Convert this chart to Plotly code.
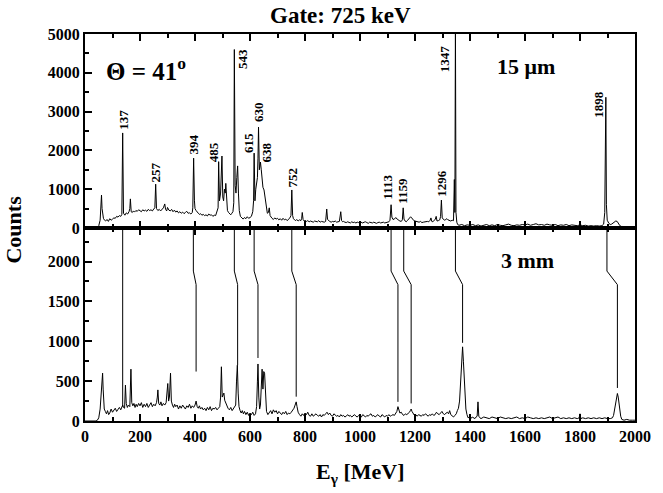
import plotly.graph_objects as go

# ---------------- data ----------------
# 15 um target spectrum (top panel): (E_gamma, counts)
top_spectrum = [
    (0, 0), (40, 0), (45, 20), (50, 60), (55, 200), (58, 500), (60, 850), (62, 500), (64, 300), (67, 250),
    (70, 210), (75, 180), (80, 220), (85, 170), (90, 240), (95, 200), (100, 230), (105, 260), (110, 250),
    (115, 300), (120, 280), (125, 320), (130, 300), (134, 350), (137, 2450), (140, 380), (145, 330),
    (150, 390), (155, 360), (160, 420), (163, 500), (165, 750), (168, 420), (172, 400), (176, 440),
    (180, 410), (185, 450), (190, 430), (195, 470), (200, 440), (205, 420), (210, 470), (215, 440),
    (220, 460), (225, 430), (230, 480), (235, 450), (240, 470), (245, 440), (250, 490), (254, 520),
    (257, 1130), (260, 500), (265, 450), (270, 480), (275, 440), (280, 470), (285, 520), (290, 620),
    (293, 480), (297, 440), (300, 530), (305, 460), (310, 440), (315, 480), (320, 420), (325, 460),
    (330, 410), (335, 440), (340, 390), (345, 420), (350, 380), (355, 410), (360, 370), (365, 400),
    (370, 430), (375, 380), (380, 390), (385, 360), (390, 400), (392, 520), (395, 1800), (398, 700),
    (400, 500), (404, 450), (408, 400), (412, 380), (416, 350), (420, 370), (425, 330), (430, 350),
    (435, 320), (440, 340), (445, 310), (450, 360), (455, 330), (460, 340), (465, 300), (470, 330),
    (475, 320), (480, 420), (484, 520), (486, 1710), (489, 700), (493, 900), (496, 1300), (498, 1855),
    (501, 800), (504, 700), (507, 1000), (510, 900), (512, 1150), (515, 600), (518, 450), (522, 400),
    (526, 360), (530, 340), (534, 380), (538, 420), (541, 650), (543, 4600), (546, 1100), (549, 900),
    (552, 1300), (555, 1600), (558, 900), (561, 450), (565, 300), (570, 260), (575, 230), (580, 270),
    (585, 240), (590, 290), (595, 250), (600, 270), (605, 300), (610, 420), (613, 700), (615, 1930),
    (618, 700), (621, 1000), (624, 1200), (627, 1300), (629, 1800), (631, 2600), (634, 1500), (636, 1600),
    (638, 1700), (641, 1500), (644, 1200), (647, 1050), (651, 980), (654, 800), (657, 600), (660, 420),
    (663, 380), (667, 400), (670, 520), (673, 320), (677, 270), (680, 250), (685, 220), (690, 260),
    (695, 230), (700, 250), (705, 210), (710, 240), (715, 200), (720, 250), (725, 210), (730, 230),
    (735, 190), (740, 220), (745, 260), (749, 320), (752, 980), (755, 320), (758, 240), (762, 210),
    (766, 190), (770, 220), (775, 180), (780, 210), (785, 190), (788, 250), (790, 400), (793, 220),
    (797, 180), (800, 200), (805, 170), (810, 190), (815, 160), (820, 180), (825, 170), (830, 150),
    (835, 180), (840, 170), (845, 160), (850, 190), (855, 150), (860, 170), (865, 160), (870, 150),
    (875, 170), (879, 490), (882, 220), (886, 180), (890, 170), (895, 150), (900, 170), (905, 160),
    (910, 180), (915, 150), (920, 160), (925, 170), (930, 420), (933, 190), (937, 160), (940, 170),
    (945, 150), (950, 140), (955, 160), (960, 150), (965, 130), (970, 160), (975, 140), (980, 150),
    (985, 130), (990, 150), (995, 140), (1000, 160), (1005, 150), (1010, 130), (1015, 150), (1020, 160),
    (1025, 140), (1030, 120), (1035, 150), (1040, 140), (1045, 130), (1050, 150), (1055, 140),
    (1060, 120), (1065, 140), (1070, 150), (1075, 130), (1080, 140), (1085, 150), (1090, 130),
    (1095, 140), (1100, 150), (1105, 160), (1109, 200), (1113, 600), (1116, 280), (1120, 220),
    (1125, 230), (1130, 270), (1135, 230), (1140, 200), (1145, 180), (1150, 170), (1154, 210),
    (1157, 520), (1160, 230), (1164, 180), (1168, 160), (1172, 190), (1176, 230), (1180, 270),
    (1184, 290), (1188, 260), (1192, 220), (1196, 190), (1200, 180), (1205, 170), (1210, 160),
    (1215, 150), (1220, 170), (1225, 140), (1230, 150), (1235, 160), (1240, 150), (1245, 170),
    (1250, 160), (1255, 200), (1258, 260), (1261, 170), (1265, 160), (1270, 200), (1274, 230),
    (1277, 300), (1280, 180), (1285, 190), (1290, 210), (1293, 300), (1296, 720), (1299, 260),
    (1303, 220), (1307, 200), (1312, 220), (1316, 240), (1320, 210), (1325, 190), (1330, 180),
    (1335, 200), (1340, 190), (1343, 1250), (1345, 400), (1347, 5300), (1349, 400), (1352, 150),
    (1355, 90), (1360, 70), (1370, 90), (1380, 60), (1390, 80), (1400, 70), (1410, 90), (1420, 60),
    (1430, 80), (1440, 50), (1450, 70), (1460, 90), (1470, 60), (1480, 80), (1490, 60), (1500, 90),
    (1510, 70), (1520, 60), (1530, 80), (1540, 100), (1550, 70), (1560, 60), (1570, 80), (1580, 70),
    (1590, 90), (1600, 80), (1610, 100), (1620, 70), (1630, 90), (1640, 110), (1650, 80), (1660, 90),
    (1670, 70), (1680, 100), (1690, 80), (1700, 70), (1710, 90), (1720, 60), (1730, 80), (1740, 70),
    (1750, 90), (1760, 60), (1770, 80), (1780, 70), (1790, 60), (1800, 80), (1810, 60), (1820, 70),
    (1830, 50), (1840, 60), (1850, 50), (1860, 60), (1870, 50), (1880, 60), (1886, 100), (1890, 400),
    (1892, 1300), (1894, 3370), (1896, 600), (1899, 200), (1905, 120), (1910, 90), (1915, 100),
    (1920, 120), (1925, 160), (1930, 180), (1935, 170), (1940, 110), (1945, 60), (1950, 40), (1960, 40),
    (1970, 30), (1980, 40), (1990, 30), (2000, 30),
]

# 3 mm target spectrum (bottom panel): (E_gamma, counts)
bot_spectrum = [
    (0, 0), (40, 0), (45, 10), (50, 40), (55, 150), (58, 300), (61, 450), (64, 600), (66, 400), (68, 300),
    (70, 150), (74, 120), (78, 90), (82, 130), (86, 80), (90, 100), (95, 150), (100, 110), (105, 140),
    (110, 160), (115, 120), (120, 150), (125, 170), (130, 140), (134, 180), (137, 200), (140, 170),
    (144, 160), (147, 450), (150, 220), (154, 170), (158, 200), (163, 180), (167, 650), (170, 230),
    (174, 190), (178, 220), (182, 170), (186, 210), (190, 180), (195, 220), (200, 190), (205, 230),
    (210, 170), (215, 210), (220, 180), (225, 220), (230, 170), (235, 200), (240, 230), (245, 180),
    (250, 210), (255, 190), (260, 230), (263, 300), (265, 390), (268, 220), (272, 200), (276, 240),
    (280, 190), (285, 220), (290, 200), (295, 230), (298, 350), (301, 470), (304, 250), (307, 300),
    (311, 600), (314, 250), (318, 200), (322, 170), (326, 210), (330, 180), (335, 200), (340, 150),
    (345, 190), (350, 160), (355, 200), (360, 180), (365, 150), (370, 190), (375, 170), (380, 210),
    (385, 160), (390, 190), (395, 170), (400, 200), (404, 250), (408, 180), (412, 160), (416, 190),
    (420, 150), (425, 170), (430, 140), (435, 160), (440, 130), (445, 170), (450, 140), (455, 180),
    (460, 130), (465, 160), (470, 150), (475, 170), (480, 140), (485, 160), (490, 180), (493, 300),
    (496, 680), (499, 300), (502, 330), (505, 350), (508, 260), (512, 220), (516, 180), (520, 160),
    (525, 140), (530, 170), (535, 130), (540, 160), (545, 190), (548, 200), (551, 500), (554, 700),
    (557, 350), (560, 180), (564, 130), (568, 100), (572, 130), (576, 90), (580, 120), (585, 80),
    (590, 110), (595, 70), (600, 100), (605, 80), (610, 110), (615, 70), (620, 90), (624, 180),
    (627, 500), (629, 715), (632, 300), (635, 150), (638, 200), (641, 500), (644, 650), (647, 400),
    (650, 620), (653, 600), (656, 300), (660, 120), (665, 80), (670, 110), (675, 130), (680, 90),
    (685, 140), (690, 110), (695, 130), (700, 90), (705, 120), (710, 100), (715, 80), (720, 110),
    (725, 90), (730, 120), (735, 80), (740, 100), (745, 90), (750, 110), (755, 130), (760, 160),
    (764, 200), (768, 240), (771, 180), (775, 110), (780, 80), (785, 60), (790, 90), (795, 70),
    (800, 100), (805, 80), (810, 110), (815, 70), (820, 60), (825, 90), (830, 60), (835, 80), (840, 90),
    (845, 70), (850, 60), (855, 80), (860, 50), (865, 80), (870, 70), (875, 90), (880, 110), (885, 80),
    (890, 100), (895, 70), (900, 60), (905, 90), (910, 80), (915, 60), (920, 70), (925, 50), (930, 80),
    (935, 60), (940, 70), (945, 50), (950, 60), (955, 80), (960, 60), (965, 70), (970, 50), (975, 60),
    (980, 80), (985, 60), (990, 50), (995, 70), (1000, 60), (1005, 50), (1010, 80), (1015, 60),
    (1020, 50), (1025, 70), (1030, 60), (1035, 80), (1040, 90), (1045, 60), (1050, 70), (1055, 50),
    (1060, 60), (1065, 80), (1070, 60), (1075, 50), (1080, 80), (1085, 60), (1090, 50), (1095, 70),
    (1100, 60), (1105, 80), (1110, 60), (1115, 70), (1120, 80), (1125, 70), (1130, 90), (1134, 120),
    (1138, 180), (1141, 140), (1145, 100), (1150, 110), (1155, 80), (1160, 70), (1165, 90), (1170, 80),
    (1175, 90), (1180, 110), (1183, 130), (1186, 150), (1189, 120), (1193, 90), (1198, 70), (1203, 80),
    (1208, 60), (1213, 80), (1218, 70), (1223, 60), (1228, 80), (1233, 70), (1238, 90), (1243, 80),
    (1248, 60), (1253, 80), (1258, 70), (1263, 90), (1268, 70), (1273, 80), (1278, 110), (1283, 90),
    (1288, 80), (1293, 100), (1298, 120), (1303, 90), (1308, 80), (1313, 100), (1318, 110), (1322, 90),
    (1326, 130), (1330, 80), (1335, 60), (1340, 50), (1345, 70), (1350, 90), (1354, 130), (1358, 160),
    (1362, 250), (1366, 500), (1370, 800), (1373, 930), (1376, 750), (1379, 500), (1382, 300),
    (1385, 150), (1389, 80), (1393, 40), (1398, 50), (1403, 30), (1408, 50), (1413, 40), (1418, 30),
    (1422, 50), (1426, 60), (1429, 240), (1432, 60), (1436, 40), (1440, 30), (1450, 50), (1460, 40),
    (1470, 30), (1480, 50), (1490, 40), (1500, 30), (1510, 50), (1520, 40), (1530, 30), (1540, 40),
    (1550, 30), (1560, 40), (1570, 50), (1580, 30), (1590, 40), (1600, 30), (1610, 50), (1620, 40),
    (1630, 30), (1640, 40), (1650, 30), (1660, 40), (1670, 30), (1680, 40), (1690, 50), (1700, 30),
    (1710, 40), (1720, 50), (1730, 30), (1740, 40), (1750, 30), (1760, 40), (1770, 30), (1780, 40),
    (1790, 30), (1797, 40), (1800, 90), (1803, 30), (1810, 40), (1820, 30), (1830, 40), (1840, 30),
    (1850, 40), (1860, 30), (1870, 40), (1880, 30), (1890, 40), (1900, 30), (1910, 30), (1918, 40),
    (1922, 70), (1926, 150), (1930, 250), (1933, 320), (1936, 345), (1939, 300), (1942, 220),
    (1945, 130), (1948, 60), (1952, 20), (1960, 10), (1970, 20), (1980, 10), (1990, 10), (2000, 10),
]

# peak labels in the top panel
label_text = ["137", "257", "394", "485", "543", "615", "630", "638", "752", "1113", "1159", "1296", "1347", "1898"]
label_x = [137, 258, 395, 465, 575, 594, 631, 659, 756, 1099, 1155, 1296, 1308, 1867]
label_y = [2780, 1430, 2140, 1950, 4360, 2200, 2980, 1950, 1300, 1050, 950, 1150, 4370, 3190]

# guide lines connecting unshifted (top) and shifted (bottom) peaks
guide_top_e = [137, 394, 543, 615, 752, 1113, 1159, 1347, 1898]
guide_bot_e = [137, 404, 555, 629, 768, 1138, 1186, 1373, 1936]
guide_end_counts = [180, 620, 700, 790, 305, 240, 220, 980, 414]
guide_start = 2430
kink_upper = 1880
kink_lower = 1710

x_ticks = list(range(0, 2001, 200))

top_energy = [p[0] for p in top_spectrum]
top_counts = [p[1] for p in top_spectrum]
bot_energy = [p[0] for p in bot_spectrum]
bot_counts = [p[1] for p in bot_spectrum]

# ---------------- figure ----------------
FONT = "Liberation Serif"
fig = go.Figure()

fig.add_trace(go.Scatter(x=top_energy, y=top_counts, mode="lines",
                         line=dict(color="black", width=1), xaxis="x", yaxis="y",
                         showlegend=False, hoverinfo="skip"))
fig.add_trace(go.Scatter(x=bot_energy, y=bot_counts, mode="lines",
                         line=dict(color="black", width=1), xaxis="x2", yaxis="y2",
                         showlegend=False, hoverinfo="skip"))

for et, eb, ee in zip(guide_top_e, guide_bot_e, guide_end_counts):
    if et == eb:
        gx = [et, eb]
        gy = [guide_start, ee]
    else:
        gx = [et, et, eb, eb]
        gy = [guide_start, kink_upper, kink_lower, ee]
    fig.add_trace(go.Scatter(x=gx, y=gy, mode="lines", line=dict(color="black", width=1),
                             xaxis="x2", yaxis="y2", showlegend=False, hoverinfo="skip"))

for t, lx, ly in zip(label_text, label_x, label_y):
    fig.add_annotation(x=lx, y=ly, xref="x", yref="y", text=t, textangle=-90, showarrow=False,
                       xanchor="center", yanchor="middle",
                       font=dict(family=FONT, size=13, color="black", weight="bold"))

split = 0.4987
axis_common = dict(showline=True, linecolor="black", linewidth=2, mirror=True, showgrid=False,
                   zeroline=False, color="black",
                   tickfont=dict(family=FONT, size=16, color="black", weight="bold"))
tick_common = dict(ticks="inside", ticklen=7, tickwidth=1.5, tickcolor="black")

fig.update_layout(
    width=663, height=493,
    margin=dict(l=85, r=18, t=34, b=72),
    paper_bgcolor="white", plot_bgcolor="white",
    xaxis=dict(domain=[0, 1], anchor="y", range=[0, 2000], tickvals=x_ticks, showticklabels=False,
               minor=dict(dtick=100, ticks="inside", ticklen=4, tickcolor="black", tickwidth=1.5),
               **tick_common, **{**axis_common, "mirror": "ticks"}),
    yaxis=dict(domain=[split, 1], anchor="x", range=[0, 5000], tickvals=[0, 1000, 2000, 3000, 4000, 5000],
               minor=dict(dtick=500, ticks="inside", ticklen=4, tickcolor="black", tickwidth=1.5),
               **tick_common, **axis_common),
    xaxis2=dict(domain=[0, 1], anchor="y2", range=[0, 2000], tickvals=x_ticks,
                minor=dict(dtick=100, ticks="inside", ticklen=4, tickcolor="black", tickwidth=1.5),
                **tick_common, **{**axis_common, "mirror": "ticks"}),
    yaxis2=dict(domain=[0, split], anchor="x2", range=[0, 2420], tickvals=[0, 500, 1000, 1500, 2000],
                minor=dict(dtick=250, ticks="inside", ticklen=4, tickcolor="black", tickwidth=1.5),
                **tick_common, **axis_common),
)

# texts
fig.add_annotation(xref="paper", yref="paper", x=0.464, y=1.049, text="Gate: 725 keV", showarrow=False,
                   xanchor="center", yanchor="middle",
                   font=dict(family=FONT, size=23, color="black", weight="bold"))
fig.add_annotation(xref="paper", yref="paper", x=-0.13, y=0.4935, text="Counts", showarrow=False,
                   textangle=-90, xanchor="center", yanchor="middle",
                   font=dict(family=FONT, size=22, color="black", weight="bold"))
fig.add_annotation(xref="paper", yref="paper", x=0.5, y=-0.134, text="E<sub>γ</sub> [MeV]", showarrow=False,
                   xanchor="center", yanchor="middle",
                   font=dict(family=FONT, size=22, color="black", weight="bold"))
fig.add_annotation(x=223, y=4100, xref="x", yref="y", text="Θ = 41<sup>o</sup>", showarrow=False,
                   xanchor="center", yanchor="middle",
                   font=dict(family=FONT, size=25, color="black", weight="bold"))
fig.add_annotation(x=1605, y=4175, xref="x", yref="y", text="15 μm", showarrow=False,
                   xanchor="center", yanchor="middle",
                   font=dict(family=FONT, size=22, color="black", weight="bold"))
fig.add_annotation(x=1609, y=2008, xref="x2", yref="y2", text="3 mm", showarrow=False,
                   xanchor="center", yanchor="middle",
                   font=dict(family=FONT, size=22, color="black", weight="bold"))

fig.write_html("out.html")
